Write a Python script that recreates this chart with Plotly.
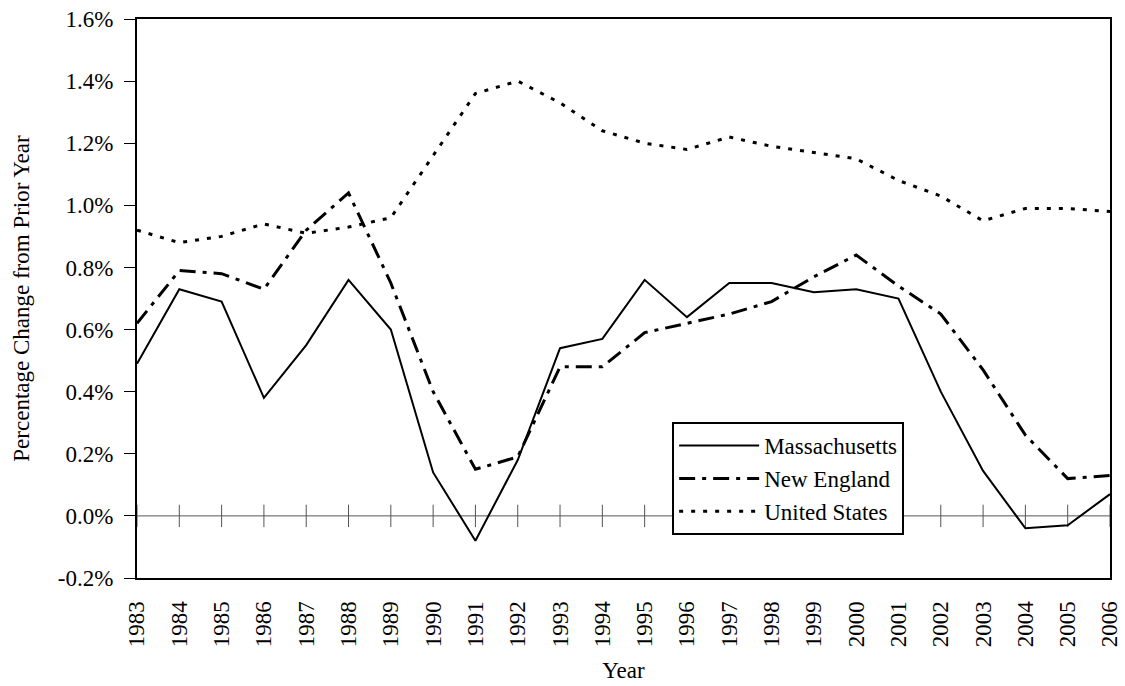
import plotly.graph_objects as go

years = list(range(1983, 2007))
year_labels = [str(y) for y in years]
massachusetts = [0.49, 0.73, 0.69, 0.38, 0.55, 0.76, 0.60, 0.14, -0.08, 0.18, 0.54, 0.57,
                 0.76, 0.64, 0.75, 0.75, 0.72, 0.73, 0.70, 0.40, 0.145, -0.04, -0.03, 0.07]
new_england = [0.62, 0.79, 0.78, 0.73, 0.92, 1.04, 0.75, 0.40, 0.15, 0.19, 0.48, 0.48,
               0.59, 0.62, 0.65, 0.69, 0.77, 0.84, 0.74, 0.65, 0.47, 0.26, 0.12, 0.13]
united_states = [0.92, 0.88, 0.90, 0.94, 0.91, 0.93, 0.96, 1.16, 1.36, 1.40, 1.33, 1.24,
                 1.20, 1.18, 1.22, 1.19, 1.17, 1.15, 1.08, 1.03, 0.95, 0.99, 0.99, 0.98]
y_ticks = [-0.2, 0.0, 0.2, 0.4, 0.6, 0.8, 1.0, 1.2, 1.4, 1.6]
y_tick_labels = [f"{v:.1f}%" for v in y_ticks]

FONT = "Liberation Serif, Times New Roman, serif"
FS = 23

fig = go.Figure()

# zero reference line with crossing tick marks at each year
fig.add_trace(go.Scatter(
    x=years, y=[0] * len(years), mode="lines+markers",
    line=dict(color="#555555", width=1),
    marker=dict(symbol="line-ns-open", size=16, line=dict(color="#555555", width=1)),
    showlegend=False, hoverinfo="skip"))

fig.add_trace(go.Scatter(x=years, y=massachusetts, mode="lines", name="Massachusetts",
                         line=dict(color="black", width=2)))
fig.add_trace(go.Scatter(x=years, y=new_england, mode="lines", name="New England",
                         line=dict(color="black", width=3, dash="16px,7px,4px,7px")))
fig.add_trace(go.Scatter(x=years, y=united_states, mode="lines", name="United States",
                         line=dict(color="black", width=3, dash="4px,8px")))

fig.update_layout(
    width=1125, height=686,
    margin=dict(l=137, r=15, t=19, b=108),
    paper_bgcolor="white", plot_bgcolor="white",
    font=dict(family=FONT, size=FS, color="black"),
    legend=dict(x=0.550, y=0.279, xanchor="left", yanchor="top",
                bgcolor="white", bordercolor="black", borderwidth=2,
                font=dict(family=FONT, size=FS, color="black"),
                itemwidth=80, tracegroupgap=0),
    xaxis=dict(
        range=[1983, 2006], tickmode="array", tickvals=years, ticktext=year_labels,
        tickangle=-90, ticks="", showgrid=False, zeroline=False,
        showline=True, linecolor="black", linewidth=2, mirror=True,
        ticklabelstandoff=12, automargin=False,
        title=dict(text="Year", font=dict(family=FONT, size=FS), standoff=16),
    ),
    yaxis=dict(
        range=[-0.2, 1.6], tickmode="array", tickvals=y_ticks, ticktext=y_tick_labels,
        ticks="outside", ticklen=11, tickcolor="black", tickwidth=1,
        showgrid=False, zeroline=False,
        showline=True, linecolor="black", linewidth=2, mirror=True,
        ticklabelstandoff=6, automargin=False,
        title=dict(text="Percentage Change from Prior Year", font=dict(family=FONT, size=FS),
                   standoff=22),
    ),
)

fig.write_html("out.html",
               config={"displayModeBar": False},
               post_script="document.body.style.margin='0';document.body.style.overflow='hidden';")
